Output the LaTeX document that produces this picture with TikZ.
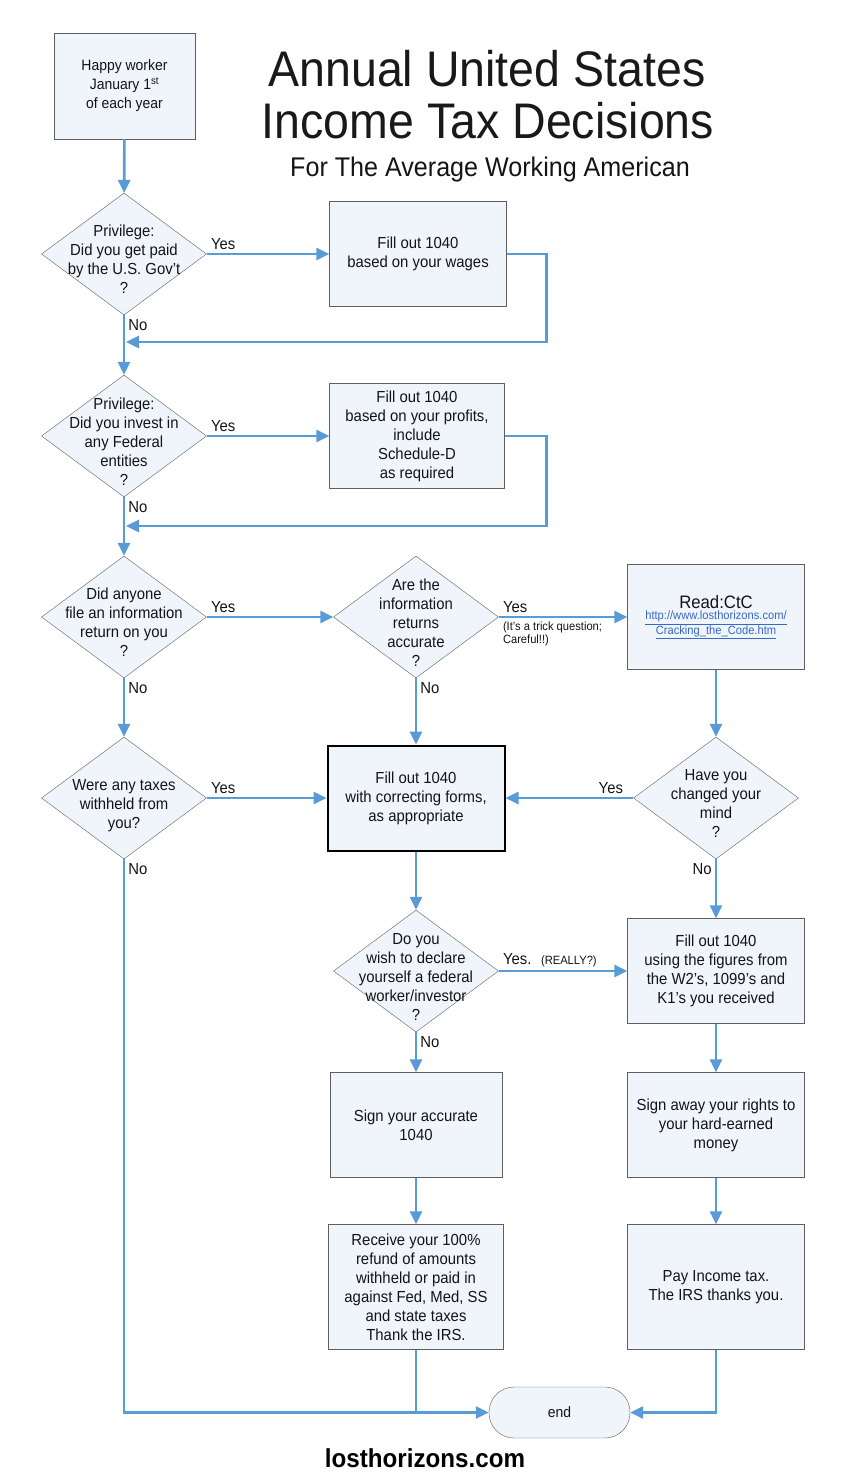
\documentclass[tikz,border=0pt]{standalone}
\usepackage{fontspec}
\setmainfont{Liberation Sans}[FakeStretch=0.93]
\usetikzlibrary{positioning,shapes.geometric,arrows.meta}
\definecolor{flowblue}{RGB}{88,155,215}
\definecolor{boxfill}{RGB}{239,245,250}
\definecolor{boxline}{RGB}{95,95,95}
\definecolor{urlblue}{RGB}{55,105,200}
\newcommand{\dtext}[1]{\makebox[0pt]{\smash{\raisebox{-12pt}{\begin{tabular}{@{}c@{}}#1\end{tabular}}}}}

\begin{document}
\begin{tikzpicture}[x=1pt, y=-1pt,
  every node/.style={font=\fontsize{16}{19}\selectfont, text=black!92},
  box/.style={draw=boxline, fill=boxfill, align=center, minimum width=177pt,
    minimum height=105pt, inner sep=2pt},
  dia/.style={diamond, draw=boxline, fill=boxfill, inner sep=0pt,
    minimum width=165pt, minimum height=122pt},
  lbl/.style={inner sep=3pt},
  title/.style={font=\fontsize{50}{52}\selectfont, anchor=base, text=black!90},
  arr/.style={line width=2.6pt, draw=flowblue, -{Triangle[length=13pt,width=12pt]}},
  line/.style={line width=2.6pt, draw=flowblue}
  ]
  \useasboundingbox (0,0) rectangle (852,1477);

  % heading
  \node[title] (title1) at (487,87) {Annual United States};
  \node[title] (title2) at (488,139) {Income Tax Decisions};
  \node[font=\fontsize{27}{30}\selectfont, anchor=base] (subtitle) at (490,176)
    {For The Average Working American};

  % left column
  \node[box, minimum width=141pt, minimum height=106pt,
    font=\fontsize{15}{19}\selectfont] (start) at (124.5,86)
    {Happy worker\\January 1\textsuperscript{st}\\of each year};
  \node[dia] (paid) at (124,254) {\dtext{Privilege:\\Did you get paid\\by the U.S. Gov’t\\?}};
  \node[dia] (invest) at (124,436) {\dtext{Privilege:\\Did you invest in\\any Federal\\entities\\?}};
  \node[dia] (filed) at (124,617) {\dtext{Did anyone\\file an information\\return on you\\?}};
  \node[dia] (withheld) at (124,798) {\dtext{Were any taxes\\withheld from\\you?}};

  % middle column
  \node[box] (wages) at (418,254) {Fill out 1040\\based on your wages};
  \node[box, minimum width=175pt] (profits) at (417,436)
    {Fill out 1040\\based on your profits,\\include\\Schedule-D\\as required};
  \node[dia] (accurate) at (416,617) {\dtext{Are the\\information\\returns\\accurate\\?}};
  \node[box, draw=black, line width=2pt] (correct) at (416,798)
    {Fill out 1040\\with correcting forms,\\as appropriate};
  \node[dia] (declare) at (416,971)
    {\dtext{Do you\\wish to declare\\yourself a federal\\worker/investor\\?}};
  \node[box, minimum width=172pt] (sign) at (416,1125) {Sign your accurate\\1040};
  \node[box, minimum width=175pt, minimum height=125pt] (refund) at (416,1287)
    {Receive your 100\%\\refund of amounts\\withheld or paid in\\against Fed, Med, SS\\and state taxes\\Thank the IRS.};

  % right column
  \node[box] (ctc) at (716,617)
    {{\fontsize{18}{21}\selectfont Read:CtC}\\
     \fontsize{12}{14}\selectfont\color{urlblue}%
     \begin{tabular}{@{}c@{}}\underline{http://www.losthorizons.com/}\\
       \underline{Cracking\_the\_Code.htm}\end{tabular}};
  \node[dia] (mind) at (716,798) {\dtext{Have you\\changed your\\mind\\?}};
  \node[box] (figures) at (716,971)
    {Fill out 1040\\using the figures from\\the W2's, 1099's and\\K1's you received};
  \node[box] (rights) at (716,1125) {Sign away your rights to\\your hard-earned\\money};
  \node[box, minimum height=125pt] (pay) at (716,1287) {Pay Income tax.\\The IRS thanks you.};

  \node[box, rounded corners=25pt, minimum width=141pt, minimum height=51pt,
    font=\fontsize{15}{19}\selectfont] (finish) at (559.5,1412.5) {end};

  \node[font=\fontsize{26}{30}\selectfont\bfseries, anchor=base, text=black] (site)
    at (425,1467) {losthorizons.com};

  \coordinate (back1) at (126,342);
  \coordinate (back2) at (126,526);

  % connectors
  \draw[arr] (start) -- (paid);
  \draw[arr] (paid.east) node[lbl, above right] {Yes} -- (wages);
  \draw[arr] (wages.east) -- ++(40,0) |- (back1);
  \draw[arr] (paid.south) node[lbl, below right] {No} -- (invest);
  \draw[arr] (invest.east) node[lbl, above right] {Yes} -- (profits);
  \draw[arr] (profits.east) -- ++(42,0) |- (back2);
  \draw[arr] (invest.south) node[lbl, below right] {No} -- (filed);
  \draw[arr] (filed.east) node[lbl, above right] {Yes} -- (accurate);
  \draw[arr] (filed.south) node[lbl, below right] {No} -- (withheld);
  \draw[arr] (accurate.east) node[lbl, above right] {Yes}
    node[lbl, below right, align=left, font=\fontsize{12}{13}\selectfont]
    {(It's a trick question;\\Careful!!)} -- (ctc);
  \draw[arr] (accurate.south) node[lbl, below right] {No} -- (correct);
  \draw[arr] (ctc) -- (mind);
  \draw[arr] (mind.west) node[lbl, above left, xshift=-6pt] {Yes} -- (correct);
  \draw[arr] (withheld.east) node[lbl, above right] {Yes} -- (correct);
  \draw[arr] (mind.south) node[lbl, below left] {No} -- (figures);
  \draw[arr] (correct) -- (declare);
  \draw[arr] (declare.east) node[lbl, above right]
    {Yes.~ {\fontsize{12}{14}\selectfont (REALLY?)}} -- (figures);
  \draw[arr] (declare.south) node[lbl, below right] {No} -- (sign);
  \draw[arr] (sign) -- (refund);
  \draw[arr] (figures) -- (rights);
  \draw[arr] (rights) -- (pay);
  \draw[arr] (withheld.south) node[lbl, below right] {No} |- (finish.west);
  \draw[line] (refund) -- (refund.south |- finish.west);
  \draw[arr] (pay.south) |- (finish.east);
\end{tikzpicture}
\end{document}
